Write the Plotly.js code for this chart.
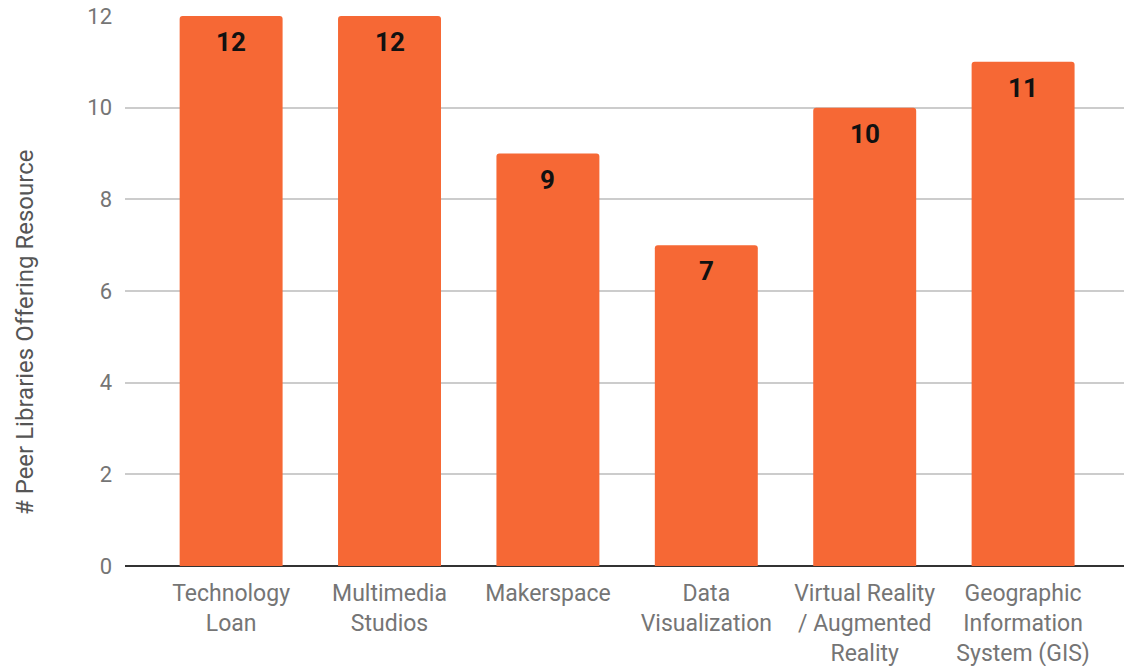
<!DOCTYPE html>
<html>
<head>
<meta charset="utf-8">
<script src="https://cdn.plot.ly/plotly-3.0.1.min.js"></script>
<style>html,body{margin:0;padding:0;background:#fff;}#chart{width:1124px;height:666px;}</style>
</head>
<body>
<div id="chart"></div>
<script>
const categories = ["Technology<br>Loan", "Multimedia<br>Studios", "Makerspace", "Data<br>Visualization", "Virtual Reality<br>/ Augmented<br>Reality", "Geographic<br>Information<br>System (GIS)"];
const values = [12, 12, 9, 7, 10, 11];
const yTicks = [0, 2, 4, 6, 8, 10, 12];
const yTitle = "# Peer Libraries Offering Resource";

const trace = {
  type: 'bar',
  x: categories,
  y: values,
  width: 0.65,
  marker: {color: '#f66835', cornerradius: 3},
  hoverinfo: 'x+y'
};

const annotations = categories.map((c, i) => ({
  x: c, y: values[i], xref: 'x', yref: 'y',
  text: '<b>' + values[i] + '</b>',
  showarrow: false, yanchor: 'middle', yshift: -26,
  font: {family: 'Roboto', size: 26, color: '#111'}
}));

annotations.push({
  xref: 'paper', yref: 'paper',
  x: -0.1, y: 0.4255,
  xanchor: 'center', yanchor: 'middle',
  textangle: -90,
  showarrow: false,
  text: yTitle,
  font: {family: 'Roboto', size: 24, color: '#555555'}
});

const layout = {
  width: 1124, height: 666,
  margin: {l: 125, r: 0, t: 16, b: 100},
  paper_bgcolor: '#fff', plot_bgcolor: '#fff',
  font: {family: 'Roboto', size: 22, color: '#757575'},
  showlegend: false,
  xaxis: {
    type: 'category',
    range: [-0.67, 5.637],
    showgrid: false,
    showline: false,
    zeroline: false,
    ticks: '',
    ticklabelstandoff: 11,
    tickfont: {family: 'Roboto', size: 23, color: '#757575'},
    fixedrange: true
  },
  yaxis: {
    range: [0, 12],
    tickvals: yTicks,
    ticktext: yTicks.map(String),
    showgrid: true,
    gridcolor: '#cccccc',
    gridwidth: 1.5,
    zeroline: true,
    zerolinecolor: '#333333',
    zerolinewidth: 2,
    showline: false,
    ticks: '',
    ticklabelstandoff: 12,
    tickfont: {family: 'Roboto', size: 22, color: '#757575'},
    automargin: false,
    fixedrange: true
  },
  annotations: annotations
};

Plotly.newPlot('chart', [trace], layout, {displayModeBar: false, responsive: false});
</script>
</body>
</html>
